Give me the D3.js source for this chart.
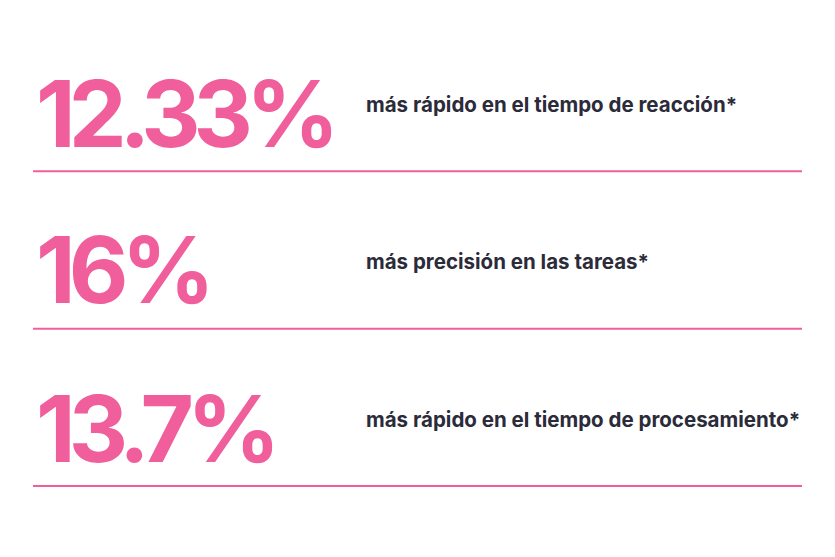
<!DOCTYPE html>
<html><head><meta charset="utf-8">
<script src="https://cdn.jsdelivr.net/npm/d3@7"></script>
<style>body{margin:0;background:#fff}</style></head>
<body><svg id="c" width="835" height="557"></svg>
<script>
const values = ["12.33%", "16%", "13.7%"];
const labels = ["más rápido en el tiempo de reacción*", "más precisión en las tareas*", "más rápido en el tiempo de procesamiento*"];
const svg = d3.select("#c");
const y = d3.scaleBand().domain(d3.range(values.length)).range([14, 486]).paddingInner(0);
const pink = "#f05f9b";
const g = svg.selectAll("g.row").data(values).join("g").attr("class","row")
  .attr("transform", (d,i) => `translate(0,${y(i)})`);
g.append("text").attr("x", 36).attr("y", (d,i)=> [133,132,133][i])
  .attr("font-family","Inter").attr("font-weight",700).attr("font-size",92)
  .attr("letter-spacing",-7).attr("fill",pink).text(d=>d);
g.append("text").attr("x", 366).attr("y", 98)
  .attr("font-family","Inter").attr("font-weight",700).attr("font-size",20.5)
  .attr("fill","#2b2b3a").text((d,i)=>labels[i]);
g.append("line").attr("x1",33).attr("x2",802).attr("y1",y.bandwidth()).attr("y2",y.bandwidth())
  .attr("stroke",pink).attr("stroke-width",2);
</script></body></html>
